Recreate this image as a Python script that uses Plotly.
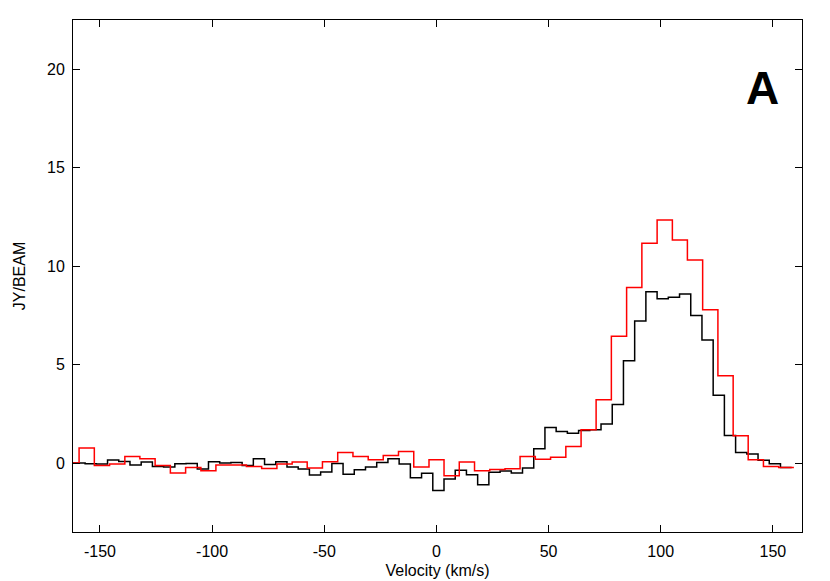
import plotly.graph_objects as go

# Black spectrum: channel centres (km/s), 5 km/s channels
black_width = 5.0
black_vel = [-164.1, -159.1, -154.1, -149.1, -144.1, -139.1, -134.1, -129.1, -124.1, -119.1,
             -114.1, -109.1, -104.1, -99.1, -94.1, -89.1, -84.1, -79.1, -74.1, -69.1,
             -64.1, -59.1, -54.1, -49.1, -44.1, -39.1, -34.1, -29.1, -24.1, -19.1,
             -14.1, -9.1, -4.1, 0.9, 5.9, 10.9, 15.9, 20.9, 25.9, 30.9,
             35.9, 40.9, 45.9, 50.9, 55.9, 60.9, 65.9, 70.9, 75.9, 80.9,
             85.9, 90.9, 95.9, 100.9, 105.9, 110.9, 115.9, 120.9, 125.9, 130.9,
             135.9, 140.9, 145.9, 150.9, 155.9]
black_flux = [0.0, 0.0, -0.03, -0.05, 0.15, 0.08, -0.1, 0.05, -0.17, -0.2,
              -0.03, -0.02, -0.3, 0.07, 0.0, 0.03, -0.12, 0.22, -0.07, 0.07,
              -0.2, -0.3, -0.6, -0.45, -0.02, -0.57, -0.34, -0.2, 0.03, 0.22,
              -0.05, -0.74, -0.52, -1.39, -0.81, -0.37, -0.59, -1.1, -0.47, -0.4,
              -0.5, -0.25, 0.73, 1.81, 1.6, 1.52, 1.66, 1.69, 1.98, 2.97,
              5.19, 7.22, 8.7, 8.35, 8.42, 8.59, 7.5, 6.25, 3.45, 1.4,
              0.54, 0.46, 0.14, -0.03, -0.22]

# Red spectrum: channel centres (km/s), ~6.78 km/s channels
red_width = 6.78
red_vel = [-162.7, -155.9, -149.1, -142.3, -135.5, -128.8, -122.0, -115.2, -108.4, -101.6,
           -94.9, -88.1, -81.3, -74.5, -67.7, -60.9, -54.2, -47.4, -40.6, -33.8,
           -27.0, -20.3, -13.5, -6.7, 0.1, 6.8, 13.6, 20.4, 27.2, 34.0,
           40.7, 47.5, 54.3, 61.1, 67.9, 74.6, 81.4, 88.2, 95.0, 101.8,
           108.6, 115.3, 122.1, 128.9, 135.7, 142.4, 149.2, 156.0]
red_flux = [0.0, 0.76, -0.12, -0.05, 0.34, 0.22, -0.12, -0.5, -0.22, -0.39,
            -0.1, -0.1, -0.17, -0.27, -0.05, 0.05, -0.25, 0.07, 0.54, 0.34,
            0.17, 0.39, 0.59, -0.2, 0.17, -0.64, 0.05, -0.39, -0.32, -0.29,
            0.34, 0.2, 0.3, 0.84, 1.69, 3.21, 6.44, 8.92, 11.16, 12.34,
            11.33, 10.31, 7.78, 4.43, 1.39, 0.17, -0.17, -0.22]

x_ticks = [-150, -100, -50, 0, 50, 100, 150]
x_tick_labels = ["-150", "-100", "-50", "0", "50", "100", "150"]
y_ticks = [0, 5, 10, 15, 20]
y_tick_labels = ["0", "5", "10", "15", "20"]


def step_xy(vel, flux, width):
    xs = [v - width / 2 for v in vel] + [vel[-1] + width / 2]
    ys = list(flux) + [flux[-1]]
    return xs, ys


bx, by = step_xy(black_vel, black_flux, black_width)
rx, ry = step_xy(red_vel, red_flux, red_width)

fig = go.Figure()
fig.add_trace(go.Scatter(x=bx, y=by, mode="lines", line=dict(color="#000000", width=1.5, shape="hv"),
                         showlegend=False, hoverinfo="skip"))
fig.add_trace(go.Scatter(x=rx, y=ry, mode="lines", line=dict(color="#ff0000", width=1.5, shape="hv"),
                         showlegend=False, hoverinfo="skip"))

font_family = "Liberation Sans, Arial, sans-serif"
axis_common = dict(showline=True, linecolor="#000000", linewidth=1, mirror="ticks",
                   ticks="inside", ticklen=7, tickwidth=1, tickcolor="#000000",
                   showgrid=False, zeroline=False,
                   tickfont=dict(family=font_family, size=16, color="#000000"))

fig.update_layout(
    width=830, height=581,
    margin=dict(l=64.5, r=35.5, t=12, b=57),
    paper_bgcolor="white", plot_bgcolor="white",
    xaxis=dict(range=[-162, 163], tickvals=x_ticks, ticktext=x_tick_labels, ticklabelstandoff=5,
               title=dict(text="Velocity (km/s)", font=dict(family=font_family, size=16, color="#000000"),
                          standoff=5),
               **axis_common),
    yaxis=dict(range=[-3.5, 22.5], tickvals=y_ticks, ticktext=y_tick_labels, ticklabelstandoff=4,
               title=dict(text="JY/BEAM", font=dict(family=font_family, size=16, color="#000000"),
                          standoff=17),
               **axis_common),
    annotations=[dict(text="<b>A</b>", xref="paper", yref="paper", x=0.946, y=0.867,
                      xanchor="center", yanchor="middle", showarrow=False,
                      font=dict(family=font_family, size=46, color="#000000"))],
)

fig.write_html("out.html")
